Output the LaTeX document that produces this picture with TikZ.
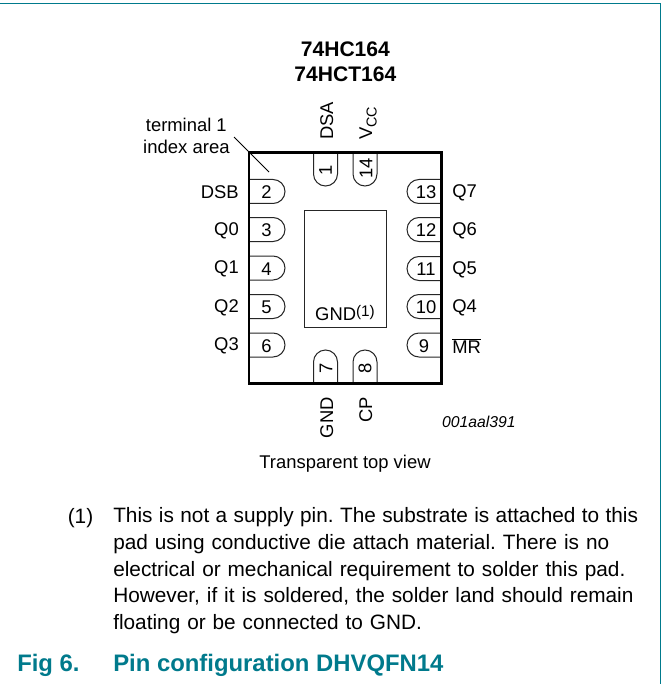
\documentclass[tikz,border=0pt]{standalone}
\usepackage{fontspec}
\setmainfont{Liberation Sans}
\frenchspacing
\definecolor{nxpteal}{HTML}{007A8C}
\newcommand{\lbl}{\fontsize{13.8pt}{16pt}\selectfont}
\tikzset{x=0.75pt,y=-0.75pt,
  pkgline/.style={line width=1.6pt,line cap=rect},
  padline/.style={line width=0.75pt,black!85},
  txt/.style={inner sep=0pt,font=\lbl,text=black},
  pinnum/.style={txt},
  rot/.style={txt,rotate=90},
  titletxt/.style={txt,font=\fontsize{15.8pt}{18pt}\selectfont\bfseries},
  head/.style={inner sep=0pt,font=\fontsize{17.9pt}{20pt}\selectfont\bfseries,text=nxpteal},
}
\newcommand{\lpin}[3]{%
 \draw[padline] (250,#1-12) -- (273,#1-12) arc[start angle=-90,end angle=90,radius=12] -- (250,#1+12);
 \node[pinnum] (p#2) at (266.5,#1+1) {#2};
 \node[txt,anchor=east] (l#2) at (239,#1+1) {#3};}
\newcommand{\rpin}[4]{%
 \draw[padline] (441,#1-12) -- (419,#1-12) arc[start angle=270,end angle=90,radius=12] -- (441,#1+12);
 \node[pinnum] (p#2) at (#4,#1+1) {#2};
 \node[txt,anchor=west] (l#2) at (452,#1+1) {#3};}
\begin{document}
\begin{tikzpicture}
\useasboundingbox (0,0) rectangle (662,684);
\fill[white] (0,0) rectangle (662,684);
\draw[nxpteal,line width=1pt] (0,3.5) -- (660.5,3.5) -- (660.5,684);
% title
\node[titletxt] (t1) at (345.4,49.2) {74HC164};
\node[titletxt] (t2) at (345.4,74) {74HCT164};
% package
\node[txt,anchor=east] (t3) at (227,125) {terminal 1};
\node[txt,anchor=east,font=\fontsize{13.9pt}{16pt}\selectfont] (t4) at (230,147) {index area};
\coordinate (da) at (234,137);
\coordinate (db) at (269,172);
\draw[line width=0.6pt] (da) -- (db);
\lpin{191.5}{2}{DSB}
\lpin{229.5}{3}{Q0}
\lpin{268}{4}{Q1}
\lpin{306.5}{5}{Q2}
\lpin{345}{6}{Q3}
\rpin{191.5}{13}{Q7}{426}
\rpin{229.5}{12}{Q6}{426}
\rpin{268.5}{11}{Q5}{426}
\rpin{306.5}{10}{Q4}{426}
\rpin{345}{9}{\ensuremath{\overline{\mbox{MR}}}}{424}
\draw[padline] (313.5,153) -- (313.5,174) arc[start angle=180,end angle=0,radius=12] -- (337.5,153);
\draw[padline] (353,153) -- (353,174) arc[start angle=180,end angle=0,radius=12] -- (377,153);
\draw[padline] (313.5,383) -- (313.5,362) arc[start angle=180,end angle=360,radius=12] -- (337.5,383);
\draw[padline] (353,383) -- (353,362) arc[start angle=180,end angle=360,radius=12] -- (377,383);
\node[rot] (p1) at (325.5,170) {1};
\node[rot] (p14) at (366,168) {14};
\node[rot] (p7) at (326,368) {7};
\node[rot] (p8) at (365,368) {8};
\node[txt,rotate=90,anchor=base west] (dsa) at (333,140) {DSA};
\node[txt,rotate=90,anchor=base west] (vcc) at (372,140) {V\raisebox{-3.5pt}{\fontsize{10.8pt}{11pt}\selectfont CC}};
\node[txt,rotate=90,anchor=base east] (gnd) at (333,397) {GND};
\node[txt,rotate=90,anchor=base east] (cp) at (372,397) {CP};
\draw[pkgline] (249,152.5) rectangle (441.5,383.5);
\draw[padline] (304.5,210) rectangle (386,327);
\node[txt] (g) at (345,313) {GND\raisebox{0.5ex}{\fontsize{11.5pt}{12pt}\selectfont (1)}};
\node[txt,anchor=east,font=\fontsize{11.8pt}{13pt}\selectfont\itshape] (id) at (516,422) {001aal391};
\node[txt,font=\fontsize{13.8pt}{14pt}\selectfont] (tv) at (345,464) {Transparent top view};
% note
\node[txt,anchor=base west,font=\fontsize{15.6pt}{17pt}\selectfont] (n0) at (67.5,523) {(1)};
\node[txt,anchor=north west,align=left,text width=530pt,font=\fontsize{15.6pt}{20pt}\selectfont] (n1) at (113,507.5) {\mbox{\spaceskip=4.8pt\relax This is not a supply pin. The substrate is attached to this}\\pad using conductive die attach material. There is no\\electrical or mechanical requirement to solder this pad.\\However, if it is soldered, the solder land should remain\\floating or be connected to GND.};
\node[head,anchor=base west] (f) at (17,671.5) {Fig 6.};
\node[head,anchor=base west] (f2) at (113,671.5) {Pin configuration DHVQFN14};
\end{tikzpicture}
\end{document}
